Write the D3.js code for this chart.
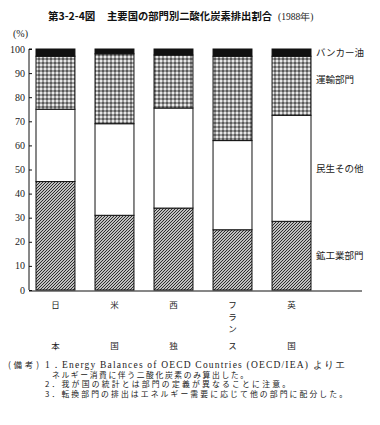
<!DOCTYPE html>
<html><head><meta charset="utf-8">
<script src="https://cdn.jsdelivr.net/npm/d3@7"></script>
<style>body{margin:0;background:#fff}svg{display:block}</style>
</head><body>
<script>
const categories = ["日本", "米国", "西独", "フランス", "英国"];
const seriesNames = ["鉱工業部門", "民生その他", "運輸部門", "バンカー油"];
const industry = [45, 31, 34, 25, 28.5];
const residential = [30, 38, 41.5, 37, 44];
const transport = [22, 29, 22, 35, 24.5];
const bunker = [3, 2, 2.5, 3, 3];
const yTicks = [0, 10, 20, 30, 40, 50, 60, 70, 80, 90, 100];
const notes = [
  "ネルギー消費に伴う二酸化炭素のみ算出した。",
  "2．我が国の統計とは部門の定義が異なることに注意。",
  "3．転換部門の排出はエネルギー需要に応じて他の部門に配分した。"
];

const W = 380, H = 425;
const svg = d3.select("body").append("svg").attr("width", W).attr("height", H);
const defs = svg.append("defs");
const ph = defs.append("pattern").attr("id", "hatch").attr("patternUnits", "userSpaceOnUse")
  .attr("width", 3).attr("height", 3);
ph.append("rect").attr("width", 3).attr("height", 3).attr("fill", "#fff");
ph.append("path").attr("d", "M-1,1 l2,-2 M0,3 l3,-3 M2,4 l2,-2").attr("stroke", "#222").attr("stroke-width", 1.1);
const pc = defs.append("pattern").attr("id", "check").attr("patternUnits", "userSpaceOnUse")
  .attr("width", 4).attr("height", 4);
pc.append("rect").attr("width", 4).attr("height", 4).attr("fill", "#9a9a9a");
pc.append("rect").attr("x", 0).attr("y", 0).attr("width", 2).attr("height", 2).attr("fill", "#e8e8e8");
pc.append("rect").attr("x", 2).attr("y", 2).attr("width", 2).attr("height", 2).attr("fill", "#5a5a5a");

const fills = ["url(#hatch)", "#fff", "url(#check)", "#111"];
const serif = "'Liberation Serif', 'DejaVu Serif', serif";
const jp = "'Noto Sans CJK JP', sans-serif";

const y = d3.scaleLinear().domain([0, 100]).range([290, 49]);
const x = d3.scaleBand().domain(categories).range([36, 311]).paddingInner(0.34).paddingOuter(0);

const table = categories.map((c, i) => ({ cat: c, v: [industry[i], residential[i], transport[i], bunker[i]] }));
const stack = d3.stack().keys([0, 1, 2, 3]).value((d, k) => d.v[k]);
const layers = stack(table);

const g = svg.append("g");
layers.forEach((layer, k) => {
  g.selectAll(null).data(layer).enter().append("rect")
    .attr("x", d => x(d.data.cat))
    .attr("width", x.bandwidth())
    .attr("y", d => y(d[1]))
    .attr("height", d => y(d[0]) - y(d[1]))
    .attr("fill", fills[k])
    .attr("stroke", "#111").attr("stroke-width", 1);
});

// y axis
const yAxis = d3.axisRight(y).tickValues(yTicks).tickSize(3).tickFormat("");
const ya = svg.append("g").attr("transform", "translate(29,0)").call(yAxis);
ya.select(".domain").attr("stroke", "#111").attr("d", "M3,49H0V290");
ya.selectAll(".tick line").attr("stroke", "#111");
svg.append("g").selectAll("text").data(yTicks).enter().append("text")
  .attr("x", 25).attr("y", d => y(d) + 3.5).attr("text-anchor", "end")
  .attr("font-family", serif).attr("font-size", 10).attr("fill", "#222").text(d => d);

// x axis baseline
svg.append("line").attr("x1", 29).attr("x2", 362).attr("y1", 291).attr("y2", 291)
  .attr("stroke", "#111").attr("stroke-width", 1.2);

// category labels (vertical)
categories.forEach(c => {
  const cx = x(c) + x.bandwidth() / 2;
  const chars = Array.from(c);
  const n = chars.length;
  chars.forEach((ch, j) => {
    let yy;
    if (n === 2) yy = j === 0 ? 308 : 349;
    else yy = j === n - 1 ? 349 : 308 + j * 12;
    svg.append("text").attr("x", cx).attr("y", yy).attr("text-anchor", "middle")
      .attr("font-family", jp).attr("font-size", 8.5).attr("fill", "#222").text(ch);
  });
});

// legend labels on right
const labelY = [255, 168, 79, 52];
seriesNames.forEach((s, k) => {
  svg.append("text").attr("x", 316).attr("y", labelY[k] + 3.5)
    .attr("font-family", jp).attr("font-size", 9.5).attr("fill", "#222").text(s);
});

// title
svg.append("text").attr("x", 48).attr("y", 20).attr("font-family", jp).attr("font-weight", "bold")
  .attr("font-size", 10.5).attr("fill", "#111").text("第3-2-4図");
svg.append("text").attr("x", 107).attr("y", 20).attr("font-family", jp).attr("font-weight", "bold")
  .attr("font-size", 10.3).attr("fill", "#111").attr("textLength", 165).text("主要国の部門別二酸化炭素排出割合");
svg.append("text").attr("x", 278).attr("y", 20).attr("font-family", serif)
  .attr("font-size", 9.5).attr("fill", "#222").text("(1988年)");
svg.append("text").attr("x", 13).attr("y", 37).attr("font-family", serif)
  .attr("font-size", 10).attr("fill", "#222").text("(%)");

// notes
svg.append("text").attr("x", 8).attr("y", 368).attr("font-family", jp)
  .attr("font-size", 8.5).attr("fill", "#222").attr("textLength", 31).text("(備考)");
svg.append("text").attr("x", 45).attr("y", 368).attr("font-family", serif)
  .attr("font-size", 9.5).attr("fill", "#222").attr("textLength", 300)
  .text("1．Energy  Balances  of  OECD  Countries (OECD/IEA) よりエ");
svg.append("text").attr("x", 52).attr("y", 377.5).attr("font-family", jp)
  .attr("font-size", 7.8).attr("fill", "#222").attr("textLength", 196).text(notes[0]);
svg.append("text").attr("x", 45).attr("y", 387).attr("font-family", jp)
  .attr("font-size", 7.8).attr("fill", "#222").attr("textLength", 245).text(notes[1]);
svg.append("text").attr("x", 45).attr("y", 396.5).attr("font-family", jp)
  .attr("font-size", 7.8).attr("fill", "#222").attr("textLength", 302).text(notes[2]);
</script>
</body></html>
